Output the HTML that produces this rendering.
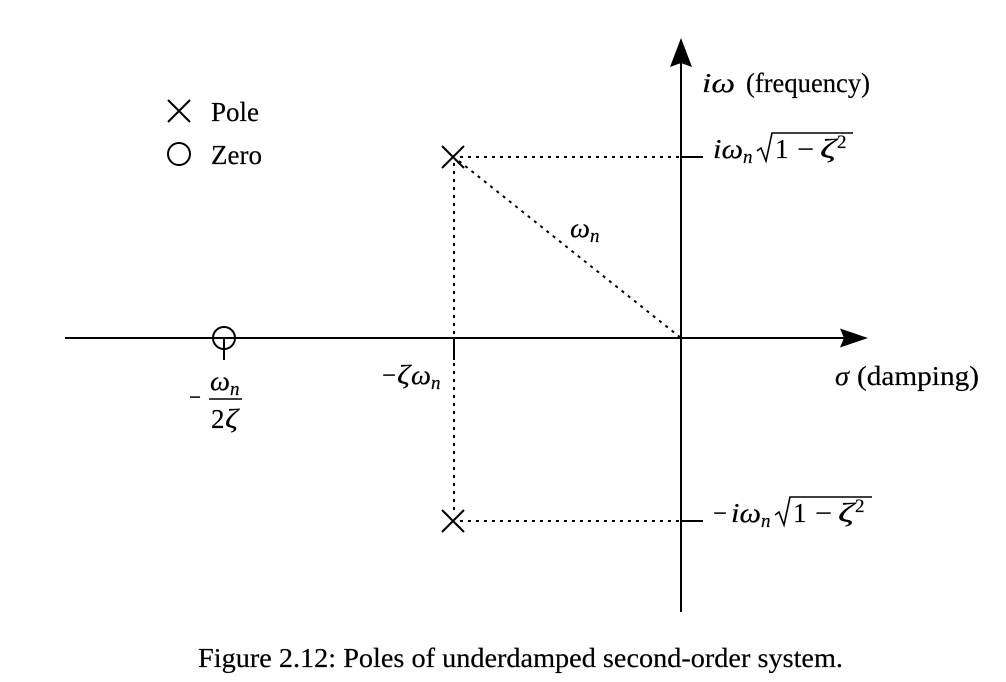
<!DOCTYPE html>
<html>
<head>
<meta charset="utf-8">
<style>
  html, body { margin:0; padding:0; background:#fff; }
  svg { display:block; }
  text { font-family: "Liberation Serif", "DejaVu Serif", serif; fill:#000; stroke:#000; stroke-width:0.2; }
  .it { font-style: italic; }
</style>
</head>
<body>
<svg width="1006" height="682" viewBox="0 0 1006 682" xmlns="http://www.w3.org/2000/svg">
  <!-- Axes -->
  <line x1="65" y1="338" x2="846" y2="338" stroke="#000" stroke-width="2"/>
  <path d="M868,338 L840,328.5 L844,338 L840,347.5 Z" fill="#000"/>
  <line x1="681" y1="612" x2="681" y2="62" stroke="#000" stroke-width="2"/>
  <path d="M681,38 L670,67 L681,63 L692,67 Z" fill="#000"/>

  <!-- Ticks -->
  <line x1="680" y1="157" x2="703" y2="157" stroke="#000" stroke-width="2"/>
  <line x1="680" y1="521" x2="703" y2="521" stroke="#000" stroke-width="2"/>
  <line x1="454" y1="338" x2="454" y2="360" stroke="#000" stroke-width="2"/>
  <line x1="224" y1="338" x2="224" y2="360" stroke="#000" stroke-width="2"/>

  <!-- Dotted lines -->
  <g stroke="#000" stroke-width="2" stroke-dasharray="3 5" fill="none">
    <line x1="460" y1="157" x2="681" y2="157"/>
    <line x1="460" y1="521" x2="681" y2="521"/>
    <line x1="454" y1="163" x2="454" y2="515"/>
    <line x1="459" y1="161" x2="681" y2="338"/>
  </g>

  <!-- Poles -->
  <g stroke="#000" stroke-width="2">
    <line x1="442" y1="146" x2="464" y2="168"/>
    <line x1="464" y1="146" x2="442" y2="168"/>
    <line x1="442" y1="510" x2="464" y2="532"/>
    <line x1="464" y1="510" x2="442" y2="532"/>
    <!-- legend X -->
    <line x1="168" y1="100" x2="190" y2="122"/>
    <line x1="190" y1="100" x2="168" y2="122"/>
  </g>

  <!-- Zero circle -->
  <circle cx="224" cy="338" r="11" fill="none" stroke="#000" stroke-width="2"/>
  <!-- legend O -->
  <circle cx="179" cy="154" r="11" fill="none" stroke="#000" stroke-width="2"/>

  <!-- Legend text -->
  <text x="211" y="121" font-size="27">Pole</text>
  <text x="211" y="164" font-size="27">Zero</text>

  <!-- Axis labels -->
  <text x="702" y="92" font-size="27" class="it" textLength="33" lengthAdjust="spacingAndGlyphs">iω</text>
  <text x="746" y="92" font-size="27" textLength="124" lengthAdjust="spacingAndGlyphs">(frequency)</text>
  <text x="835" y="385" font-size="27" class="it" textLength="14" lengthAdjust="spacingAndGlyphs">σ</text>
  <text x="857" y="385" font-size="27" textLength="122" lengthAdjust="spacingAndGlyphs">(damping)</text>

  <!-- Top imaginary label -->
  <text x="713" y="158" font-size="27" class="it" textLength="30" lengthAdjust="spacingAndGlyphs">iω</text>
  <text x="743" y="163" font-size="19" class="it">n</text>
  <path d="M757,151 L761,148 L766,161 L772,133 L853,133" fill="none" stroke="#000" stroke-width="1.6"/>
  <text x="775" y="158" font-size="27">1</text>
  <text x="797" y="158" font-size="27" textLength="17" lengthAdjust="spacingAndGlyphs">−</text>
  <text x="820" y="158" font-size="27" class="it" textLength="16" lengthAdjust="spacingAndGlyphs">ζ</text>
  <text x="837" y="148" font-size="19">2</text>

  <!-- Bottom imaginary label -->
  <text x="713" y="522" font-size="27" textLength="14" lengthAdjust="spacingAndGlyphs">−</text>
  <text x="731" y="522" font-size="27" class="it" textLength="30" lengthAdjust="spacingAndGlyphs">iω</text>
  <text x="761" y="527" font-size="19" class="it">n</text>
  <path d="M775,515 L779,512 L784,525 L790,497 L872,497" fill="none" stroke="#000" stroke-width="1.6"/>
  <text x="793" y="522" font-size="27">1</text>
  <text x="815" y="522" font-size="27" textLength="17" lengthAdjust="spacingAndGlyphs">−</text>
  <text x="838" y="522" font-size="27" class="it" textLength="16" lengthAdjust="spacingAndGlyphs">ζ</text>
  <text x="855" y="512" font-size="19">2</text>

  <!-- Diagonal label ω_n -->
  <text x="570" y="237" font-size="27" class="it" textLength="20" lengthAdjust="spacingAndGlyphs">ω</text>
  <text x="590" y="242" font-size="19" class="it">n</text>

  <!-- -ζω_n -->
  <text x="382" y="384" font-size="27" textLength="14" lengthAdjust="spacingAndGlyphs">−</text>
  <text x="397" y="384" font-size="27" class="it" textLength="13" lengthAdjust="spacingAndGlyphs">ζ</text>
  <text x="411" y="384" font-size="27" class="it" textLength="20" lengthAdjust="spacingAndGlyphs">ω</text>
  <text x="431" y="389" font-size="19" class="it">n</text>

  <!-- -ω_n / 2ζ -->
  <text x="189" y="406" font-size="27" textLength="12" lengthAdjust="spacingAndGlyphs">−</text>
  <line x1="209" y1="399" x2="242" y2="399" stroke="#000" stroke-width="1.5"/>
  <text x="210" y="390" font-size="27" class="it" textLength="20" lengthAdjust="spacingAndGlyphs">ω</text>
  <text x="230" y="395" font-size="19" class="it">n</text>
  <text x="211" y="428" font-size="27">2</text>
  <text x="225" y="428" font-size="27" class="it" textLength="13" lengthAdjust="spacingAndGlyphs">ζ</text>

  <!-- Caption -->
  <text x="198" y="667" font-size="27" textLength="645" lengthAdjust="spacingAndGlyphs">Figure 2.12: Poles of underdamped second-order system.</text>
</svg>
</body>
</html>
